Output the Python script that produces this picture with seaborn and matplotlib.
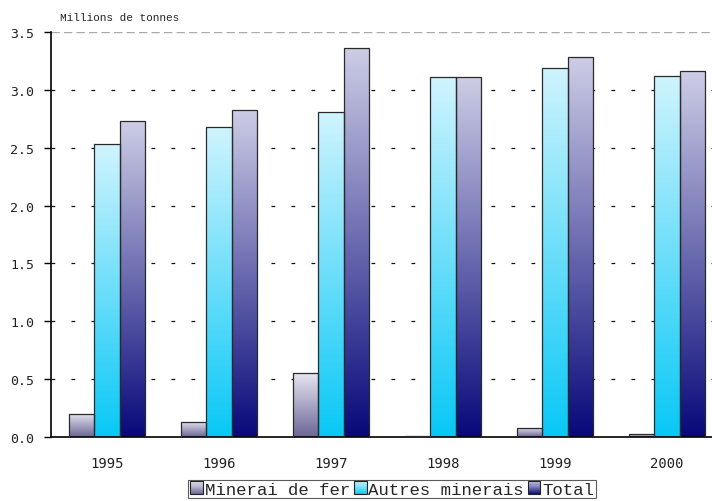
import numpy as np
import pandas as pd
import matplotlib
matplotlib.use("Agg")
import matplotlib.pyplot as plt
from matplotlib.colors import to_rgb
from matplotlib.patches import Rectangle
from matplotlib.legend_handler import HandlerBase
import seaborn as sns

years = ["1995", "1996", "1997", "1998", "1999", "2000"]
series = ["Minerai de fer", "Autres minerais", "Total"]
minerai_fer = [0.20, 0.13, 0.55, 0.005, 0.08, 0.025]
autres_minerais = [2.53, 2.68, 2.81, 3.11, 3.19, 3.12]
total = [2.73, 2.83, 3.36, 3.11, 3.28, 3.16]
y_ticks = [0.0, 0.5, 1.0, 1.5, 2.0, 2.5, 3.0, 3.5]

# top / bottom colours of each series' vertical gradient
gradients = {
    "Minerai de fer": ("#e6e6f2", "#6c6696"),
    "Autres minerais": ("#d0f4fe", "#08c8f6"),
    "Total": ("#cdcde6", "#08087a"),
}

df = pd.DataFrame({
    "Année": years * 3,
    "Série": [s for s in series for _ in years],
    "Valeur": minerai_fer + autres_minerais + total,
})

sns.set_style("white")
plt.rcParams["font.family"] = ["DejaVu Sans Mono"]

fig = plt.figure(figsize=(7.12, 5.02), dpi=100)
ax = fig.add_axes([51 / 712, 64 / 502, 672 / 712, 405 / 502])

sns.barplot(data=df, x="Année", y="Valeur", hue="Série", order=years,
            hue_order=series, width=0.68, gap=0, ax=ax, legend=False,
            edgecolor="#2a2a2a", linewidth=0.9)


def gradient_array(top, bottom, n=256):
    t = np.linspace(0, 1, n)[:, None]
    c0 = np.array(to_rgb(top))
    c1 = np.array(to_rgb(bottom))
    return (c0 * (1 - t) + c1 * t)[:, None, :]


for i, s in enumerate(series):
    top, bottom = gradients[s]
    img = gradient_array(top, bottom)
    for j in range(len(years)):
        patch = ax.patches[i * len(years) + j]
        x0 = patch.get_x()
        w = patch.get_width()
        h = patch.get_height()
        if h <= 0:
            continue
        im = ax.imshow(img, extent=[x0, x0 + w, 0, h], aspect="auto",
                       origin="upper", zorder=2, interpolation="bilinear")
        im.set_clip_path(patch)
        patch.set_facecolor("none")
        patch.set_zorder(3)

ax.set_xlim(-0.5, 5.5)
ax.set_ylim(0, 3.5)

# dashed horizontal guides
for v in y_ticks[1:-1]:
    ax.axhline(v, color="#111111", lw=0.9, ls=(0, (3, 13)), zorder=1)
ax.axhline(3.5, color="#aaaaaa", lw=1.0, ls=(0, (6, 3)), zorder=1)

ax.set_yticks(y_ticks)
ax.set_yticklabels([f"{v:.1f}" for v in y_ticks], fontsize=9.5, color="#222222")
ax.set_xticks(range(len(years)))
ax.set_xticklabels(years, fontsize=10, color="#222222")
ax.set_xticks(np.arange(-0.5, 6, 1), minor=True)
ax.tick_params(axis="x", which="major", length=0, pad=14)
ax.tick_params(axis="x", which="minor", length=5, width=1, color="black",
               direction="out")
ax.tick_params(axis="y", length=5, width=1, color="black", direction="out",
               left=True, pad=7)
ax.set_xlabel("")
ax.set_ylabel("")

for side in ["top", "right"]:
    ax.spines[side].set_visible(False)
for side in ["left", "bottom"]:
    ax.spines[side].set_color("black")
    ax.spines[side].set_linewidth(1.2)

fig.text(60 / 712, 1 - 18 / 502, "Millions de tonnes", fontsize=8,
         family="Liberation Mono", va="center", ha="left")


class GradientHandle:
    def __init__(self, top, bottom):
        self.top = top
        self.bottom = bottom


class HandlerGradient(HandlerBase):
    def create_artists(self, legend, orig_handle, xdescent, ydescent,
                       width, height, fontsize, trans):
        size = min(width, height) * 1.0
        x = xdescent + width - size
        y = -ydescent + (height - size) / 2
        n = 12
        c0 = np.array(to_rgb(orig_handle.top))
        c1 = np.array(to_rgb(orig_handle.bottom))
        arts = []
        for k in range(n):
            t = (k + 0.5) / n
            col = c0 * (1 - t) + c1 * t
            r = Rectangle((x, y + size * (n - k - 1) / n), size, size / n,
                          facecolor=col, edgecolor="none", transform=trans)
            arts.append(r)
        arts.append(Rectangle((x, y), size, size, facecolor="none",
                              edgecolor="#222222", lw=0.8, transform=trans))
        return arts


handles = [GradientHandle(*gradients[s]) for s in series]
leg = fig.legend(handles, series, loc="center",
                 bbox_to_anchor=(392 / 712, 1 - 490 / 502), ncol=3,
                 handler_map={GradientHandle: HandlerGradient()},
                 prop={"family": "Liberation Mono", "size": 12.5},
                 frameon=True, fancybox=False, edgecolor="#333333",
                 handlelength=0.75, handleheight=0.75, handletextpad=0.1,
                 columnspacing=0.2, borderpad=0.1, borderaxespad=0)
leg.get_frame().set_linewidth(0.8)

fig.savefig("out.png", dpi=100)
